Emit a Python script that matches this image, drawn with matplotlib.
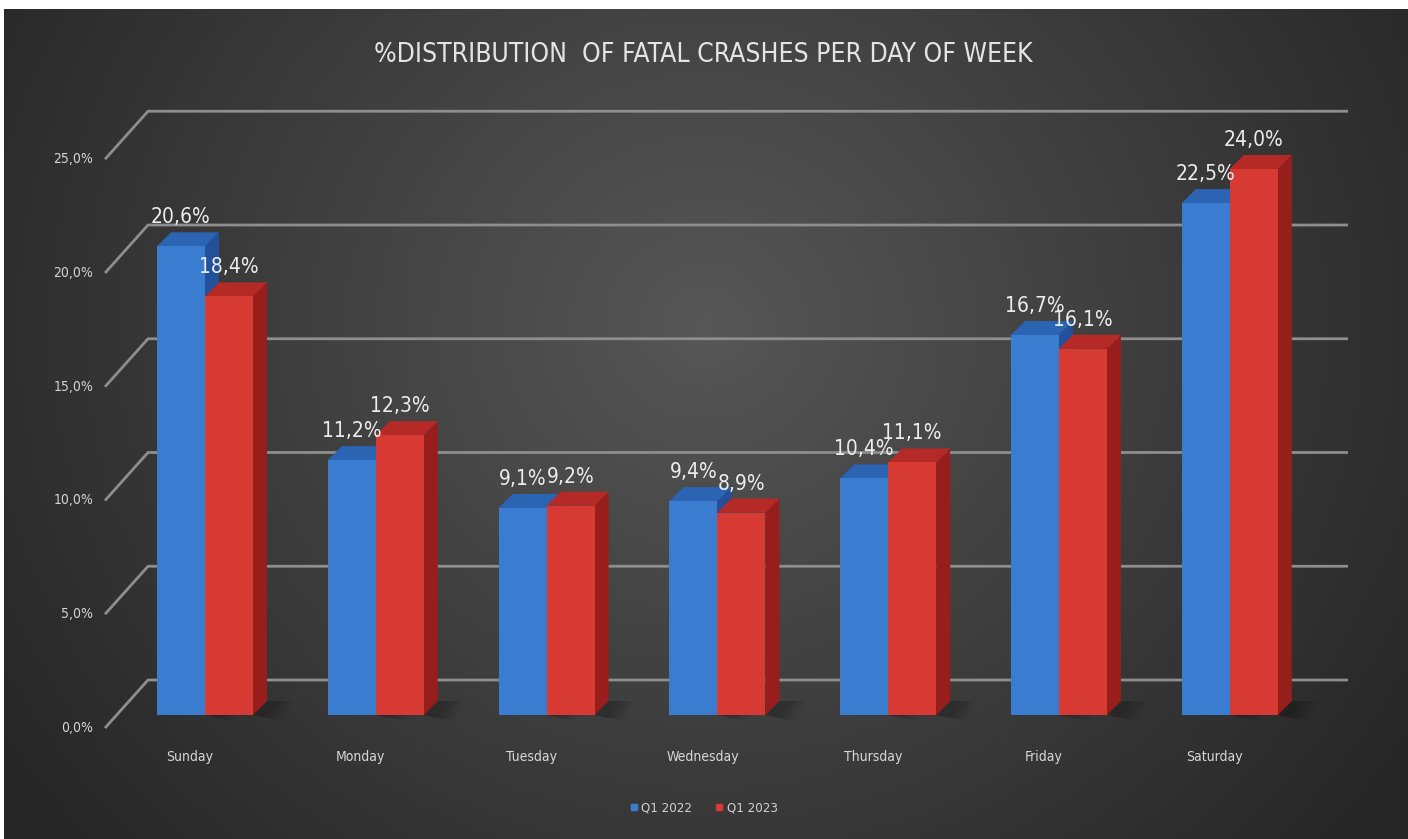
import numpy as np
import matplotlib.pyplot as plt
from matplotlib.patches import Polygon
from matplotlib.lines import Line2D

days = ['Sunday', 'Monday', 'Tuesday', 'Wednesday', 'Thursday', 'Friday', 'Saturday']
q1_2022 = [20.6, 11.2, 9.1, 9.4, 10.4, 16.7, 22.5]
q1_2023 = [18.4, 12.3, 9.2, 8.9, 11.1, 16.1, 24.0]
series_names = ['Q1 2022', 'Q1 2023']
y_ticks = [0, 5, 10, 15, 20, 25]

plt.rcParams['font.family'] = ['DejaVu Sans']
plt.rcParams['font.stretch'] = 'condensed'

W, H = 1408, 839
fig = plt.figure(figsize=(W / 100, H / 100), dpi=100)
fig.patch.set_facecolor('white')
ax = fig.add_axes([4 / W, 0, 1 - 4 / W, 1 - 9 / H])

# pixel scale of one category step and one percent on the front plane
cat_px, pct_px = 170.8, 22.75
x0_px, y0_px = 205, 715
ax.set_xlim((4 - x0_px) / cat_px, (W - x0_px) / cat_px)
ax.set_ylim((y0_px - H) / pct_px, (y0_px - 9) / pct_px)
ax.axis('off')

# dark radial background
gx, gy = np.meshgrid(np.linspace(0, 1, 400), np.linspace(0, 1, 240))
r = np.sqrt(((gx - 0.5) / 0.6) ** 2 + ((gy - 0.62) / 0.95) ** 2)
shade = 0.15 + 0.19 * np.clip(1 - r, 0, 1)
ax.imshow(np.dstack([shade, shade, shade]), extent=[0, 1, 0, 1], origin='lower',
          transform=ax.transAxes, aspect='auto', zorder=0)

# walls: left side wall diagonals + back wall gridlines
front_left = (105 - x0_px) / cat_px
back_left = (148 - x0_px) / cat_px
back_right = (1348 - x0_px) / cat_px
front_dy = -13 / pct_px
back_dy = 35 / pct_px
for t in y_ticks:
    ax.plot([front_left, back_left, back_right], [t + front_dy, t + back_dy, t + back_dy],
            color='#8e8e8e', lw=2, zorder=1, solid_capstyle='butt')
    ax.text(front_left - 12 / cat_px, t + front_dy, f'{t:.1f}%'.replace('.', ','),
            ha='right', va='center', fontsize=10, color='#d4d4d4', zorder=5)

# 3D-looking bars
w = 48 / cat_px
ddx, ddy = 14 / cat_px, 14 / pct_px
x = np.arange(len(days))
series = [
    (q1_2022, x - w, ('#3a7dd0', '#2c64b4', '#23509a')),
    (q1_2023, x, ('#d63a33', '#b52a26', '#981e1c')),
]
for vals, lefts, (c_front, c_top, c_side) in series:
    for xl, v in zip(lefts, vals):
        xr = xl + w
        # soft floor shadow right of the bar
        for k in range(4):
            grow = 0.03 * k
            ax.add_patch(Polygon([(xr, 0), (xr + ddx, ddy), (xr + ddx + 0.06 + grow, ddy),
                                  (xr + 0.08 + grow, -0.15 - grow)],
                                 closed=True, facecolor='black', alpha=0.06, lw=0, zorder=2))
        ax.add_patch(Polygon([(xr, 0), (xr + ddx, ddy), (xr + ddx, v + ddy), (xr, v)],
                             closed=True, facecolor=c_side, lw=0, zorder=3))
        ax.add_patch(Polygon([(xl, v), (xl + ddx, v + ddy), (xr + ddx, v + ddy), (xr, v)],
                             closed=True, facecolor=c_top, lw=0, zorder=3))
    ax.bar(lefts, vals, width=w, align='edge', color=c_front, lw=0, zorder=4)

for vals, lefts, _ in series:
    for xl, v in zip(lefts, vals):
        ax.text(xl + w / 2, v + ddy + 9 / pct_px, f'{v:.1f}%'.replace('.', ','),
                ha='center', va='baseline', fontsize=15, color='#ececec', zorder=6)

for i, d in enumerate(days):
    ax.text(i - 15 / cat_px, (y0_px - 757) / pct_px, d, ha='center', va='center',
            fontsize=10, color='#d8d8d8', zorder=5)

fig.text(703 / W, 1 - 55 / H, '%DISTRIBUTION  OF FATAL CRASHES PER DAY OF WEEK',
         ha='center', va='center', fontsize=19, color='#e4e4e4')

handles = [Line2D([], [], ls='none', marker='s', ms=5, color='#3a7dd0'),
           Line2D([], [], ls='none', marker='s', ms=5, color='#d63a33')]
fig.legend(handles, series_names, loc='center', bbox_to_anchor=(703 / W, 1 - 808 / H),
           ncol=2, frameon=False, fontsize=9.5, labelcolor='#d0d0d0',
           handletextpad=0.2, columnspacing=1.6, handlelength=0.8)

fig.savefig('out.png', dpi=100)
